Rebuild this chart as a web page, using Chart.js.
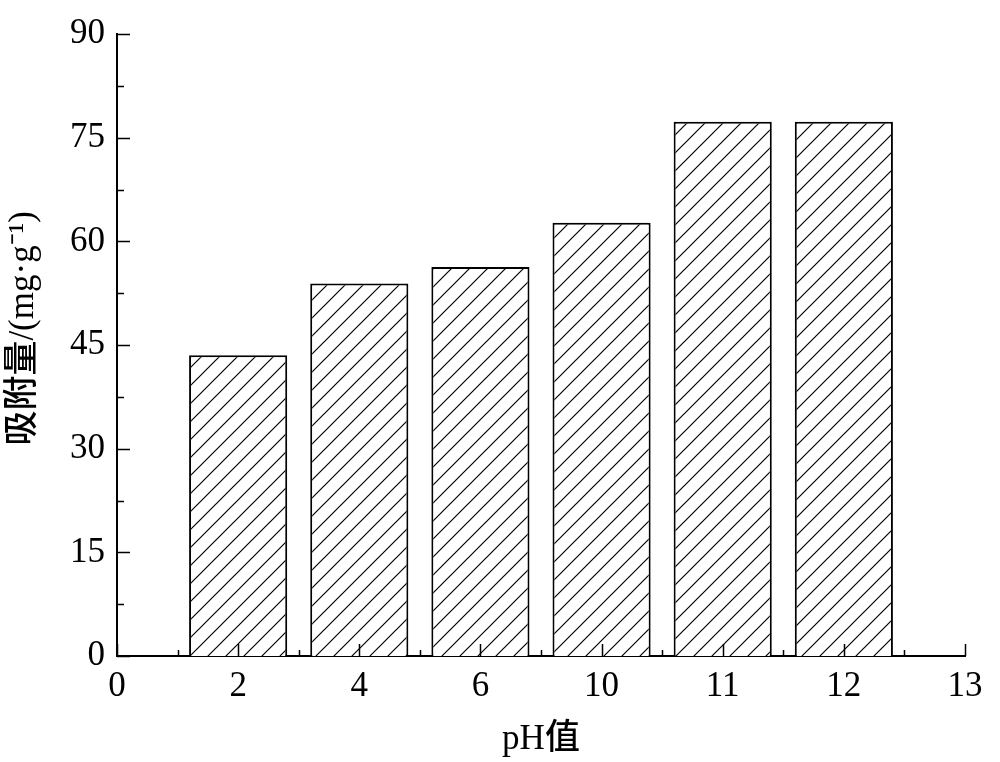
<!DOCTYPE html>
<html>
<head>
<meta charset="utf-8">
<script src="https://cdn.jsdelivr.net/npm/chart.js@4.4.1/dist/chart.umd.min.js"></script>
<style>
  html, body { margin: 0; padding: 0; background: #fff; }
  #wrap { width: 1000px; height: 762px; }
</style>
</head>
<body>
<div id="wrap"><canvas id="c" width="1000" height="762"></canvas></div>
<script>
// ---- data ----
const xTickLabels = ['0', '2', '4', '6', '10', '11', '12', '13'];
const barCategories = ['2', '4', '6', '10', '11', '12'];
const adsorption = [43.5, 53.9, 56.3, 62.7, 77.3, 77.3];
const yTicks = [0, 15, 30, 45, 60, 75, 90];
const xTitle = 'pH值';
const yTitle = '吸附量/(mg·g⁻¹)';

// ---- hatch pattern ----
function makeHatch() {
  const s = 18;
  const p = document.createElement('canvas');
  p.width = s; p.height = s;
  const g = p.getContext('2d');
  g.fillStyle = '#fff';
  g.fillRect(0, 0, s, s);
  g.strokeStyle = '#000';
  g.lineWidth = 1.2;
  g.beginPath();
  g.moveTo(-2, s + 2); g.lineTo(s + 2, -2);
  g.moveTo(-2 - s, s + 2); g.lineTo(2, -2);
  g.moveTo(s - 2, s + 2); g.lineTo(s + s + 2, -2);
  g.stroke();
  return document.getElementById('c').getContext('2d').createPattern(p, 'repeat');
}

const points = barCategories.map((c, i) => ({ x: xTickLabels.indexOf(c), y: adsorption[i] }));

const serif = '"Liberation Serif", "Times New Roman", "Noto Sans CJK SC", serif';

// inner tick marks drawn through the scales, plus the rotated y title
const innerTicks = {
  id: 'innerTicks',
  afterDraw(chart) {
    const ctx = chart.ctx;
    const xs = chart.scales.x, ys = chart.scales.y;
    const area = chart.chartArea;
    ctx.save();
    ctx.strokeStyle = '#000';
    ctx.lineWidth = 1.5;
    ctx.beginPath();
    for (let i = 0; i < xTickLabels.length; i++) {
      const px = Math.round(xs.getPixelForValue(i)) + 0.5;
      ctx.moveTo(px, area.bottom); ctx.lineTo(px, area.bottom - 12);
      if (i < xTickLabels.length - 1) {
        const mx = Math.round(xs.getPixelForValue(i + 0.5)) + 0.5;
        ctx.moveTo(mx, area.bottom); ctx.lineTo(mx, area.bottom - 6);
      }
    }
    for (let j = 0; j < yTicks.length; j++) {
      const py = Math.round(ys.getPixelForValue(yTicks[j])) + 0.5;
      ctx.moveTo(area.left, py); ctx.lineTo(area.left + 13, py);
      if (j < yTicks.length - 1) {
        const my = Math.round(ys.getPixelForValue((yTicks[j] + yTicks[j + 1]) / 2)) + 0.5;
        ctx.moveTo(area.left, my); ctx.lineTo(area.left + 7, my);
      }
    }
    ctx.stroke();

    // y axis title
    ctx.translate(24, ys.getPixelForValue(47.4));
    ctx.rotate(-Math.PI / 2);
    ctx.fillStyle = '#000';
    ctx.font = '500 35px ' + serif;
    ctx.textAlign = 'center';
    ctx.textBaseline = 'middle';
    ctx.fillText(yTitle, 0, 0);
    ctx.restore();
  }
};

new Chart(document.getElementById('c'), {
  type: 'bar',
  data: {
    datasets: [{
      data: points,
      backgroundColor: makeHatch(),
      borderColor: '#000',
      borderWidth: 2,
      borderSkipped: 'bottom',
      barPercentage: 0.81,
      categoryPercentage: 1.0
    }]
  },
  options: {
    responsive: false,
    animation: false,
    devicePixelRatio: 1,
    layout: { padding: { top: 34, right: 35, left: 0, bottom: 0 } },
    plugins: { legend: { display: false }, tooltip: { enabled: false } },
    scales: {
      x: {
        type: 'linear',
        offset: false,
        min: 0, max: xTickLabels.length - 1,
        grid: { display: false, drawTicks: false, offset: false },
        border: { display: true, color: '#000', width: 2 },
        ticks: {
          stepSize: 1,
          autoSkip: false,
          maxRotation: 0,
          padding: 10,
          color: '#000',
          font: { family: serif, size: 35 },
          callback: (v) => xTickLabels[v]
        },
        title: {
          display: true,
          text: xTitle,
          color: '#000',
          font: { family: serif, size: 35, weight: '500' },
          padding: { top: 0, bottom: 1 }
        },
        afterFit(s) { s.height = 106; }
      },
      y: {
        min: 0, max: 90,
        grid: { display: false, drawTicks: false },
        border: { display: true, color: '#000', width: 2 },
        ticks: {
          stepSize: 15,
          padding: 12,
          color: '#000',
          font: { family: serif, size: 35 }
        },
        title: { display: false },
        afterFit(s) { s.width = 117; }
      }
    }
  },
  plugins: [innerTicks]
});
</script>
</body>
</html>
